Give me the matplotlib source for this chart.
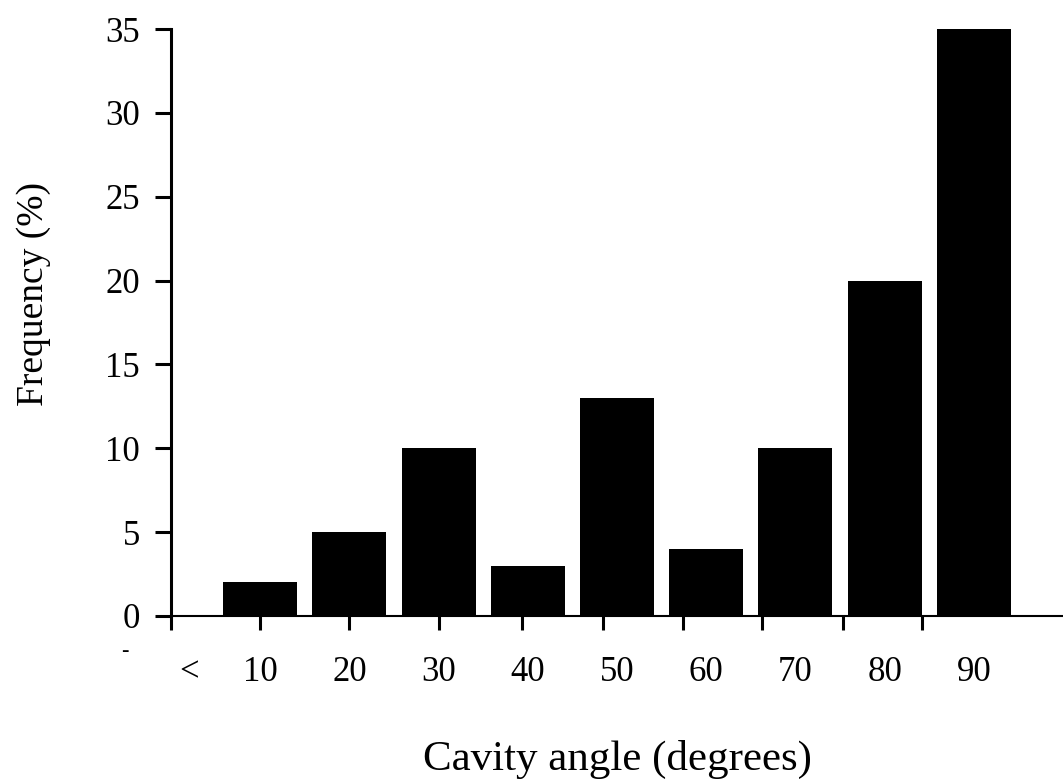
import matplotlib.pyplot as plt

# cavity angle histogram
categories = ['10', '20', '30', '40', '50', '60', '70', '80', '90']
frequency = [2, 5, 10, 3, 13, 4, 10, 20, 35]
y_ticks = [0, 5, 10, 15, 20, 25, 30, 35]

plt.rcParams['font.family'] = ['Liberation Serif', 'DejaVu Serif']

fig = plt.figure(figsize=(10.63, 7.82), dpi=100)
ax = fig.add_axes([171 / 1063, 1 - 616 / 782, 1 - 171 / 1063, (616 - 29) / 782])

pos = list(range(1, len(categories) + 1))
ax.bar(pos, frequency, width=0.83, color='black')

ax.set_xlim(0, 10)
ax.set_ylim(0, 35)

ax.xaxis.remove_overlapping_locs = False
# tick marks (on the scan they drift off the labels)
ax.set_xticks([0, 1, 2, 3, 3.94, 4.84, 5.74, 6.63, 7.53, 8.42])
ax.set_xticklabels([])
ax.tick_params(axis='x', which='major', length=10, width=2.2, direction='out')
# labels under the bars, plus the odd "<" at the left
ax.set_xticks([0.2] + pos, minor=True)
ax.set_xticklabels(['<'] + categories, minor=True)
ax.tick_params(axis='x', which='minor', length=0, pad=41, labelsize=25)
for t in ax.get_xticklabels(minor=True):
    t.set_va('center')

ax.set_yticks(y_ticks)
ax.tick_params(axis='y', length=11.5, width=2.2, direction='out', pad=11, labelsize=25)

for s in ['top', 'right']:
    ax.spines[s].set_visible(False)
ax.spines['left'].set_linewidth(2.2)
ax.spines['bottom'].set_linewidth(1.5)

ax.text(-0.52, -2.1, '-', fontsize=16, ha='center', va='center')

ax.set_xlabel('Cavity angle (degrees)', fontsize=31)
ax.xaxis.label.set_va('baseline')
ax.xaxis.set_label_coords(0.5, -0.262)
ax.set_ylabel('Frequency (%)', fontsize=27)
ax.yaxis.label.set_va('center')
ax.yaxis.set_label_coords(-0.154, 0.549)

fig.savefig('out.png', dpi=100)
